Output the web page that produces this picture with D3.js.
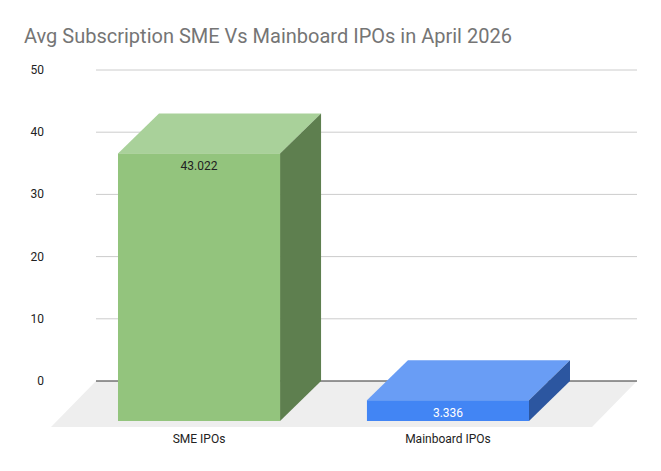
<!DOCTYPE html>
<html>
<head>
<meta charset="utf-8">
<script src="https://cdn.jsdelivr.net/npm/d3@7"></script>
<style>
body{margin:0;background:#fff;}
text{font-family:Roboto,Arial,sans-serif;}
</style>
</head>
<body>
<script>
var w = 661, h = 471;
var categories = ["SME IPOs", "Mainboard IPOs"];
var values = [43.022, 3.336];
var labels = ["43.022", "3.336"];
var yTicks = [0, 10, 20, 30, 40, 50];
var frontColors = ["#93c47d", "#4285f4"];
var topColors = ["#a9d19a", "#699df5"];
var sideColors = ["#5e7f4f", "#2c56a0"];
var labelColors = ["#222222", "#ffffff"];

// depth of the box (front face offset from the back wall)
var dx = 41, dy = 40;

var svg = d3.select("body")
	.append("svg")
		.attr("width", w)
		.attr("height", h);

var y = d3.scaleLinear().domain([0, 50]).range([381, 70]);
var x = d3.scaleBand()
	.domain(categories)
	.range([74.5, 572.5])
	.paddingInner(0.349)
	.paddingOuter(0.1747);

// title
svg.append("text")
	.attr("x", 24)
	.attr("y", 43)
	.attr("font-size", 20)
	.attr("fill", "#757575")
	.text("Avg Subscription SME Vs Mainboard IPOs in April 2026");

// floor
var x0 = 96, x1 = 637, fy = y(0);
svg.append("polygon")
	.attr("points", [[x0, fy], [x1, fy], [x1 - 45, fy + 46], [x0 - 45, fy + 46]].join(" "))
	.attr("fill", "#eeeeee");

// gridlines
svg.selectAll("line.grid")
	.data(yTicks.filter(function(d){ return d > 0; }))
	.enter()
	.append("line")
		.attr("class", "grid")
		.attr("x1", x0).attr("x2", x1)
		.attr("y1", function(d){ return y(d); })
		.attr("y2", function(d){ return y(d); })
		.attr("stroke", "#cccccc")
		.attr("stroke-width", 1);

svg.append("line")
	.attr("x1", x0).attr("x2", x1)
	.attr("y1", fy).attr("y2", fy)
	.attr("stroke", "#333333")
	.attr("stroke-width", 1.2);

// y labels
svg.selectAll("text.ytick")
	.data(yTicks)
	.enter()
	.append("text")
		.attr("class", "ytick")
		.attr("x", 44)
		.attr("y", function(d){ return y(d) + 4; })
		.attr("text-anchor", "end")
		.attr("font-size", 12)
		.attr("fill", "#222222")
		.text(function(d){ return d; });

// bars
var bars = svg.selectAll("g.bar")
	.data(values)
	.enter()
	.append("g")
		.attr("class", "bar");

bars.append("polygon")
	.attr("fill", function(d, i){ return topColors[i]; })
	.attr("points", function(d, i){
		var l = x(categories[i]), r = l + x.bandwidth(), t = y(d) + dy;
		return [[l, t], [r, t], [r + dx, t - dy], [l + dx, t - dy]].join(" ");
	});

bars.append("polygon")
	.attr("fill", function(d, i){ return sideColors[i]; })
	.attr("points", function(d, i){
		var r = x(categories[i]) + x.bandwidth(), t = y(d) + dy, b = y(0) + dy;
		return [[r, t], [r + dx, t - dy], [r + dx, b - dy], [r, b]].join(" ");
	});

bars.append("rect")
	.attr("fill", function(d, i){ return frontColors[i]; })
	.attr("x", function(d, i){ return x(categories[i]); })
	.attr("y", function(d){ return y(d) + dy; })
	.attr("width", x.bandwidth())
	.attr("height", function(d){ return y(0) - y(d); });

bars.append("text")
	.attr("x", function(d, i){ return x(categories[i]) + x.bandwidth() / 2; })
	.attr("y", function(d){ return y(d) + dy + 17; })
	.attr("text-anchor", "middle")
	.attr("font-size", 12)
	.attr("fill", function(d, i){ return labelColors[i]; })
	.text(function(d, i){ return labels[i]; });

// x labels
svg.selectAll("text.xtick")
	.data(categories)
	.enter()
	.append("text")
		.attr("class", "xtick")
		.attr("x", function(d){ return x(d) + x.bandwidth() / 2; })
		.attr("y", 443)
		.attr("text-anchor", "middle")
		.attr("font-size", 12)
		.attr("fill", "#222222")
		.text(function(d){ return d; });
</script>
</body>
</html>
